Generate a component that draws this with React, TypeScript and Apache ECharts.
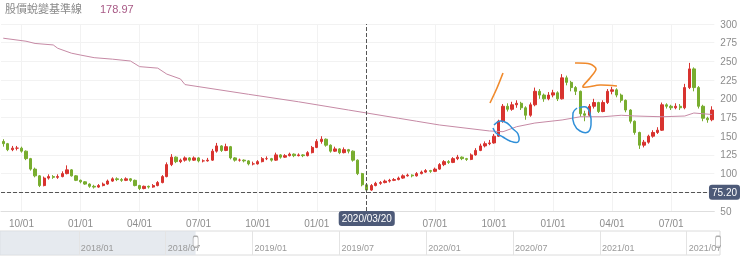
import { useEffect, useRef } from 'react';
import * as echarts from 'echarts';

// Weekly candles, categories are the Friday of each trading week
const FIRST_FRIDAY: [number, number, number] = [2018, 8, 7];
const WEEK_COUNT = 157;

const opens = [143,140,132,134,134,130,120,106,97,84,94,96,95,96,100,105,97,91,89,86,83,82,84,86,90,93,92,91,93,91,84,80,83,82,84,88,96,112,122,116,118,121,118,121,117,117,118,130,137,131,136,121,118,118,117,113,113,116,120,120,118,125,122,124,126,124,125,124,128,135,143,146,138,130,133,128,132,130,118,100,85,78,84,87,88,90,91,92,94,97,98,97,100,102,104,103,106,112,116,115,120,122,120,119,125,131,137,140,141,150,170,190,186,192,194,188,178,192,210,205,200,205,208,200,228,222,215,210,180,178,190,195,183,195,210,212,205,198,185,170,155,138,142,150,155,158,192,190,188,190,188,215,240,215,190,174,172];
const closes = [140,132,134,134,130,120,106,97,84,94,96,95,96,100,105,97,91,89,86,83,82,84,86,90,93,92,91,93,91,84,80,83,82,84,88,96,112,122,116,118,121,118,121,117,117,118,130,137,131,136,121,118,118,117,113,113,116,120,120,118,125,122,124,126,124,125,124,128,135,143,146,138,130,133,128,132,130,118,100,85,78,84,87,88,90,91,92,94,97,98,97,100,102,104,103,106,112,116,115,120,122,120,119,125,131,137,140,141,150,170,190,186,192,194,188,178,192,210,205,200,205,208,200,228,222,215,210,180,178,190,195,183,195,210,212,205,198,185,170,155,138,142,150,155,158,192,190,188,190,188,215,240,215,190,174,172,185];
const lows = [136,130,130,131,128,118,104,95,82,83,92,93,93,95,99,96,90,87,85,81,80,81,83,85,89,90,89,90,89,83,78,79,80,81,83,87,95,110,114,114,116,116,117,115,115,116,117,128,129,130,119,116,116,115,111,111,112,115,118,116,117,120,121,123,122,123,122,123,127,134,140,136,128,129,126,127,127,116,98,83,75.2,77,83,85,87,88,90,91,93,96,95,96,99,101,101,102,105,110,113,114,118,118,117,118,124,130,135,138,140,149,168,183,184,188,185,172,176,190,200,196,198,202,197,199,218,210,205,176,170,176,187,181,182,193,206,202,195,182,167,152,133,135,140,148,153,157,187,185,186,185,186,213,210,187,170,168,170];
const highs = [146,141,137,137,136,131,121,108,98,96,99,98,99,103,111,106,98,92,90,87,85,86,88,92,95,95,94,95,94,92,85,84,84,86,90,98,115,126,123,120,123,122,123,122,119,121,133,141,138,140,137,122,120,119,118,116,118,122,123,121,128,126,126,128,127,127,126,130,137,146,150,147,139,136,134,135,133,131,119,101,87,86,89,90,92,93,94,96,99,100,99,102,104,106,105,108,114,118,118,122,125,123,121,127,134,140,143,145,153,172,193,194,196,198,196,190,195,215,213,207,209,212,210,233,231,224,217,211,184,193,200,196,198,213,216,214,207,199,186,171,156,145,152,158,162,195,194,192,194,193,220,248,242,217,192,176,190];

// Long moving-average baseline: [week index, value]
const maPoints: [number, number][] = [[0,281],[5,277],[7,274],[11,272],[12,267.5],[15,261],[17,258.5],[20,255],[24,253],[28,250.5],[30,243],[34,241],[36,233],[39,226.5],[40,219],[54,206],[65,196],[76,185],[80,181],[87,174],[91,170],[96,165],[107,157],[110,156],[113,162.7],[117,167.6],[123,171.7],[127,176],[132,176],[136,178],[139,177],[145,176],[150,177],[152,181],[156,179]];

const TITLE = '股價蛻變基準線';
const MA_LATEST = 178.97;
const POINTER_DATE = '2020/03/20';
const POINTER_PRICE = 75.2;
const Y_MIN = 50;
const Y_MAX = 300;
const Y_STEP = 25;

// slider axis: months counted from 2018/01
const SLIDER_MIN = -5.45;
const SLIDER_MAX = 44.3;
const SLIDER_MONTHS = [0, 6, 12, 18, 24, 30, 36, 42];

const pad = (n: number) => String(n).padStart(2, '0');
const fmt = (d: Date) => `${d.getFullYear()}/${pad(d.getMonth() + 1)}/${pad(d.getDate())}`;
const parse = (s: string) => {
  const [y, m, d] = s.split('/').map(Number);
  return new Date(y, m - 1, d);
};
const categories: string[] = [];
for (let i = 0; i < WEEK_COUNT; i++) {
  categories.push(fmt(new Date(FIRST_FRIDAY[0], FIRST_FRIDAY[1], FIRST_FRIDAY[2] + 7 * i)));
}
const pointerIndex = categories.indexOf(POINTER_DATE);
const quarterLabel = (value: string): string | null => {
  const idx = categories.indexOf(value);
  if (Math.abs(idx - pointerIndex) <= 2) return null; // hidden under the pointer label
  const f = parse(value);
  for (let k = 0; k < 7; k++) {
    const d = new Date(f.getFullYear(), f.getMonth(), f.getDate() - k);
    if (d.getDate() === 1 && d.getMonth() % 3 === 0) return `${pad(d.getMonth() + 1)}/01`;
  }
  return null;
};
const monthIndex = (d: Date) => {
  const dim = new Date(d.getFullYear(), d.getMonth() + 1, 0).getDate();
  return (d.getFullYear() - 2018) * 12 + d.getMonth() + (d.getDate() - 1) / dim;
};

const FONT = '"Liberation Sans", Arial, "Noto Sans CJK TC", sans-serif';

export default function App() {
  const ref = useRef<HTMLDivElement>(null);
  useEffect(() => {
    if (!ref.current) return;
    const chart = echarts.init(ref.current, undefined, { renderer: 'svg' });
    const candle = categories.map((_, i) => [opens[i], closes[i], lows[i], highs[i]]);
    const ma = maPoints.map(([i, v]) => [categories[i], v]);
    const first = parse(categories[0]);
    const last = parse(categories[categories.length - 1]);
    const leftHandle = monthIndex(new Date(first.getFullYear(), first.getMonth(), first.getDate() - 4));
    const rightHandle = monthIndex(new Date(last.getFullYear(), last.getMonth(), last.getDate() + 3));
    const qInterval = (_i: number, v: string) => quarterLabel(v) !== null;

    chart.setOption({
      animation: false,
      textStyle: { fontFamily: FONT },
      graphic: [
        { type: 'text', left: 5, top: 3, style: { text: TITLE, fill: '#8a8a8a', fontSize: 11, fontFamily: FONT } },
        { type: 'text', left: 100, top: 3, style: { text: MA_LATEST.toFixed(2), fill: '#a85a86', fontSize: 11, fontFamily: FONT } },
        { type: 'polyline', shape: { points: [[503, 73], [497, 88], [490, 103]], smooth: 0.3 }, style: { stroke: '#f08a2c', lineWidth: 1.6, fill: 'none' }, z: 100 },
        { type: 'polyline', shape: { points: [[575, 63], [590, 64], [596, 69], [590, 78], [583, 87], [600, 85], [617, 86]], smooth: 0.3 }, style: { stroke: '#f08a2c', lineWidth: 1.6, fill: 'none' }, z: 100 },
        { type: 'polyline', shape: { points: [[494, 125], [500, 121], [507, 123], [513, 129], [518, 134], [518, 142], [510, 141], [503, 137], [496, 133], [493, 128]], smooth: 0.4 }, style: { stroke: '#2f8fd8', lineWidth: 1.5, fill: 'none' }, z: 100 },
        { type: 'polyline', shape: { points: [[579, 108], [586, 107], [590, 113], [591, 125], [588, 132], [580, 131], [574, 124], [573, 113], [577, 108]], smooth: 0.4 }, style: { stroke: '#2f8fd8', lineWidth: 1.5, fill: 'none' }, z: 100 },
      ],
      grid: [
        { left: 1, right: 21, top: 24, bottom: 62 },
        { left: 0, width: 720, top: 231, height: 24, show: true, borderColor: '#dcdcdc', borderWidth: 1, backgroundColor: 'transparent' },
      ],
      xAxis: [
        {
          type: 'category', gridIndex: 0, data: categories, boundaryGap: true,
          axisLine: { show: true, lineStyle: { color: '#dedede' } },
          axisTick: { show: false, interval: qInterval, alignWithLabel: true },
          axisLabel: { interval: qInterval, formatter: (v: string) => quarterLabel(v) || '', color: '#8c8c8c', fontSize: 10, margin: 7 },
          splitLine: { show: true, interval: qInterval, alignWithLabel: true, lineStyle: { color: '#f2f2f2' } },
          axisPointer: {
            show: true, type: 'line', status: 'show', value: POINTER_DATE, snap: false, triggerTooltip: false,
            lineStyle: { color: '#555', type: 'dashed', width: 1 },
            label: { show: true, backgroundColor: '#4d5a78', color: '#fff', fontSize: 10, padding: [3, 3, 2, 3], margin: 0, fontFamily: FONT },
          },
        },
        {
          type: 'value', gridIndex: 1, min: SLIDER_MIN, max: SLIDER_MAX, z: 5,
          axisLine: { show: false },
          axisTick: { show: false, customValues: SLIDER_MONTHS },
          axisLabel: {
            inside: true, customValues: SLIDER_MONTHS, color: '#9a9a9a', fontSize: 9, align: 'left', margin: 3, padding: [0, 0, 0, 2],
            formatter: (v: number) => { const y = 2018 + Math.floor(v / 12); const m = ((v % 12) + 12) % 12 + 1; return `${y}/${pad(m)}`; },
          },
          splitLine: { show: true, lineStyle: { color: '#e4e4e4' } },
        },
      ],
      yAxis: [
        {
          type: 'value', gridIndex: 0, position: 'right', min: Y_MIN, max: Y_MAX, interval: Y_STEP,
          axisLine: { show: false }, axisTick: { show: false },
          axisLabel: { color: '#8c8c8c', fontSize: 10, margin: 6, formatter: (v: number) => (Math.abs(v - POINTER_PRICE) < 5 ? '' : String(v)) },
          splitLine: { show: true, lineStyle: { color: '#f2f2f2' } },
          axisPointer: {
            show: true, type: 'line', status: 'show', value: POINTER_PRICE, snap: false, triggerTooltip: false,
            lineStyle: { color: '#555', type: 'dashed', width: 1 },
            label: { show: true, backgroundColor: '#4d5a78', color: '#fff', fontSize: 10, padding: [3, 3, 2, 3], margin: 0, fontFamily: FONT, formatter: (p: any) => Number(p.value).toFixed(2) },
          },
        },
        { type: 'value', gridIndex: 1, min: 0, max: 1, show: false },
      ],
      series: [
        {
          type: 'candlestick', xAxisIndex: 0, yAxisIndex: 0, data: candle, barWidth: '62%',
          itemStyle: { color: '#d8332f', color0: '#78ad2f', borderColor: '#d8332f', borderColor0: '#78ad2f', borderWidth: 1 },
        },
        {
          type: 'line', xAxisIndex: 0, yAxisIndex: 0, data: ma, symbol: 'none', smooth: false,
          lineStyle: { color: '#c68aa5', width: 1 }, z: 3,
        },
        {
          type: 'scatter', xAxisIndex: 1, yAxisIndex: 1, z: 10,
          data: [[leftHandle, 0.55], [rightHandle, 0.55]],
          symbol: 'roundRect', symbolSize: [5, 11],
          itemStyle: { color: '#fff', borderColor: '#9a9a9a', borderWidth: 1 },
          markArea: { silent: true, itemStyle: { color: 'rgba(220,225,232,0.7)' }, data: [[{ xAxis: SLIDER_MIN }, { xAxis: leftHandle }]] },
        },
      ],
    });
    return () => chart.dispose();
  }, []);
  return <div ref={ref} style={{ position: 'fixed', left: 0, top: 0, width: 740, height: 273 }} />;
}
